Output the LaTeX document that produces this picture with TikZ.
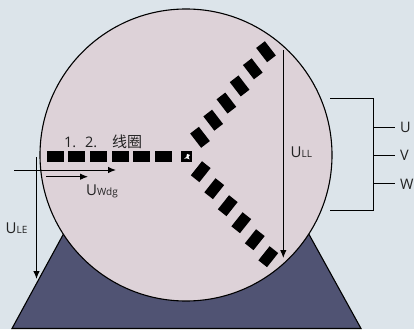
\documentclass[tikz,border=0pt]{standalone}
\usepackage{fontspec}
\setmainfont{Open Sans}
\newfontfamily\cjk{Noto Sans CJK SC}
\definecolor{bgc}{HTML}{DCE4EA}
\definecolor{discc}{HTML}{DDD2D8}
\definecolor{basec}{HTML}{505373}
\definecolor{txtc}{HTML}{222222}
\newcommand{\bigsub}[2]{{\fontsize{15}{15}\selectfont #1}{\fontsize{10}{11}\selectfont #2}}
\tikzset{
  lbl/.style={inner sep=0pt,text=txtc,font=\fontsize{14.5}{15}\selectfont},
  wire/.style={draw=black,line width=1pt},
  arr/.style={wire,-{Latex[length=8pt,width=6.5pt]}},
  bar/.style={fill=black,draw=none,minimum width=17pt,minimum height=10.5pt,inner sep=0pt,outer sep=0pt},
  slant/.style={fill=black,draw=none,minimum width=18pt,minimum height=11pt,inner sep=0pt,outer sep=0pt}
}
\usetikzlibrary{arrows.meta}
\begin{document}
\begin{tikzpicture}[x=1pt,y=-1pt]
\useasboundingbox (0,0) rectangle (414,329);
\fill[bgc] (0,0) rectangle (414,329);
% base
\draw[fill=basec,draw=black,line width=1.1pt] (12,328.5) -- (82,200) -- (290,200) -- (361,328.5) -- cycle;
% disc
\node[circle,draw=black,line width=1.1pt,fill=discc,minimum size=292pt,inner sep=0pt] (disc) at (186,155) {};
% horizontal winding
\foreach \i in {0,...,5}{
  \node[bar] (h\i) at ({55+21.7*\i},156.5) {};
}
% upper and lower windings
\foreach \i in {0,...,5}{
  \node[slant,rotate=-52.4] (a\i) at ({200+13.2*\i},{137.3-17.12*\i}) {};
  \node[slant,rotate=51.5] (b\i) at ({200.7+13.52*\i},{171.7+17*\i}) {};
}
% star point
\node[fill=black,minimum size=10.5pt,inner sep=0pt] (star) at (186.4,156.5) {};
\fill[white] (187,153.8) -- (190,155) -- (188.4,157) -- (189.6,159.4) -- (186.5,158.2) -- (184,159) -- (186.5,156.5) -- cycle;
% arrows
\coordinate (llA) at (283.3,50); \coordinate (llB) at (283.3,258);
\coordinate (leA) at (36.5,157); \coordinate (leB) at (36.5,279);
\coordinate (hA) at (14,170); \coordinate (hB) at (116,170);
\coordinate (wA) at (46,176.7); \coordinate (wB) at (88,176.7);
\draw[arr] (llA) -- (llB);
\draw[arr] (leA) -- (leB);
\draw[arr] (hA) -- (hB);
\draw[arr] (wA) -- (wB);
% terminal bracket
\coordinate (bt) at (330,98); \coordinate (bb) at (330,210);
\coordinate (bu) at (373,127); \coordinate (bv) at (373,155); \coordinate (bw) at (373,183);
\draw[wire] (bt) -- (373,98) -- (373,210) -- (bb);
\node[lbl,anchor=west] (tu) at (400,127.5) {U};
\node[lbl,anchor=west] (tv) at (400,155) {V};
\node[lbl,anchor=west] (tw) at (400,184) {W};
\draw[wire] (bu) -- (395,127);
\draw[wire] (bv) -- (395,155);
\draw[wire] (bw) -- (395,183);
% labels
\node[lbl,anchor=west] (ull) at (290.5,152) {\bigsub{U}{LL}};
\node[lbl,anchor=west] (ule) at (5.5,228) {\bigsub{U}{LE}};
\node[lbl,anchor=west] (uwdg) at (86,191.5) {\bigsub{U}{Wdg}};
\node[lbl,anchor=west] (title) at (64,142) {\makebox[21pt][l]{1.}\makebox[27pt][l]{2.}{\cjk\fontsize{15}{15}\selectfont 线圈}};
\end{tikzpicture}
\end{document}
